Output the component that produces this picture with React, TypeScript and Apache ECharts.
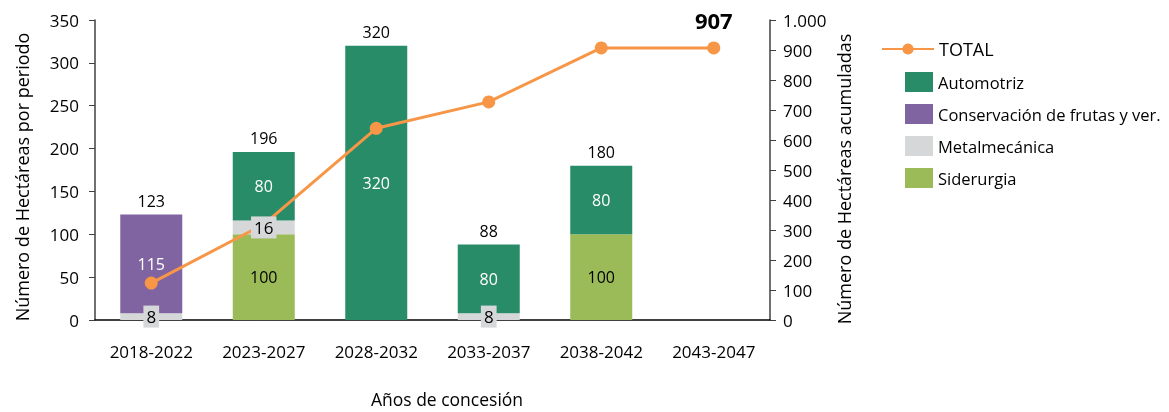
import React, { useEffect, useRef } from "react";
import * as echarts from "echarts";

const categories = ["2018-2022", "2023-2027", "2028-2032", "2033-2037", "2038-2042", "2043-2047"];
const siderurgia = [null, 100, null, null, 100, null];
const metalmecanica = [8, 16, null, 8, null, null];
const conservacion = [115, null, null, null, null, null];
const automotriz = [null, 80, 320, 80, 80, null];
const totals = [123, 196, 320, 88, 180, null];
const acumulado = [123, 319, 639, 727, 907, 907];

const FONT = "Open Sans";
const C_AUTO = "#298C69";
const C_CONS = "#8064A2";
const C_METAL = "#D6D7D8";
const C_SID = "#9BBB59";
const C_LINE = "#F79646";

// centres of the Metalmecánica segments (they sit on top of Siderurgia)
const metalCentres = metalmecanica.map((v, i) =>
  v == null ? null : (siderurgia[i] ?? 0) + v / 2
);

export default function App() {
  const ref = useRef<HTMLDivElement>(null);
  useEffect(() => {
    const chart = echarts.init(ref.current!, null, { renderer: "svg" });
    const segLabel = (color: string) => ({
      show: true,
      position: "inside",
      color,
      fontSize: 16,
      fontFamily: FONT,
      formatter: (p: any) => (p.value ? String(p.value) : ""),
    });
    chart.setOption({
      animation: false,
      textStyle: { fontFamily: FONT },
      grid: { left: 95, right: 399, top: 20, bottom: 92 },
      legend: [
        {
          data: ["TOTAL"],
          left: 881,
          top: 40,
          padding: 0,
          itemWidth: 52,
          itemHeight: 14,
          textStyle: { fontSize: 18, color: "#000", fontFamily: FONT },
        },
        {
          data: ["Automotriz", "Conservación de frutas y ver.", "Metalmecánica", "Siderurgia"],
          orient: "vertical",
          left: 905,
          top: 72,
          padding: 0,
          itemWidth: 28,
          itemHeight: 20,
          itemGap: 12,
          icon: "rect",
          textStyle: { fontSize: 16.5, color: "#000", fontFamily: FONT },
        },
      ],
      xAxis: {
        type: "category",
        data: categories,
        axisLine: { lineStyle: { color: "#000", width: 1.5 } },
        axisTick: { show: false },
        axisLabel: { fontSize: 17, color: "#000", margin: 23, fontFamily: FONT },
      },
      yAxis: [
        {
          type: "value",
          min: 0,
          max: 350,
          interval: 50,
          splitLine: { show: false },
          axisLine: { show: true, lineStyle: { color: "#404040", width: 1.5 } },
          axisTick: { show: true, length: 6, lineStyle: { color: "#404040" } },
          axisLabel: { fontSize: 17, color: "#000", margin: 16, fontFamily: FONT },
        },
        {
          type: "value",
          min: 0,
          max: 1000,
          interval: 100,
          splitLine: { show: false },
          axisLine: { show: true, lineStyle: { color: "#404040", width: 1.5 } },
          axisTick: { show: true, length: 6, lineStyle: { color: "#404040" } },
          axisLabel: {
            fontSize: 17,
            color: "#000",
            margin: 13,
            fontFamily: FONT,
            formatter: (v: number) => String(v).replace(/\B(?=(\d{3})+(?!\d))/g, "."),
          },
        },
      ],
      graphic: [
        {
          type: "text",
          x: 22,
          y: 177,
          rotation: Math.PI / 2,
          style: {
            text: "Número de Hectáreas por periodo",
            align: "center",
            verticalAlign: "middle",
            fontSize: 18,
            fontFamily: FONT,
            fill: "#000",
          },
        },
        {
          type: "text",
          x: 844,
          y: 179,
          rotation: Math.PI / 2,
          style: {
            text: "Número de Hectáreas acumuladas",
            align: "center",
            verticalAlign: "middle",
            fontSize: 18,
            fontFamily: FONT,
            fill: "#000",
          },
        },
        {
          type: "text",
          x: 447,
          y: 399,
          style: {
            text: "Años de concesión",
            align: "center",
            verticalAlign: "middle",
            fontSize: 17.5,
            fontFamily: FONT,
            fill: "#000",
          },
        },
      ],
      series: [
        {
          name: "Siderurgia",
          type: "bar",
          stack: "a",
          barWidth: 62,
          data: siderurgia,
          itemStyle: { color: C_SID },
          label: segLabel("#000"),
        },
        {
          name: "Metalmecánica",
          type: "bar",
          stack: "a",
          barWidth: 62,
          data: metalmecanica,
          itemStyle: { color: C_METAL },
        },
        {
          name: "Conservación de frutas y ver.",
          type: "bar",
          stack: "a",
          barWidth: 62,
          data: conservacion,
          itemStyle: { color: C_CONS },
          label: segLabel("#fff"),
        },
        {
          name: "Automotriz",
          type: "bar",
          stack: "a",
          barWidth: 62,
          data: automotriz,
          itemStyle: { color: C_AUTO },
          label: segLabel("#fff"),
        },
        {
          name: "totales",
          type: "scatter",
          data: totals,
          symbolSize: 0,
          silent: true,
          itemStyle: { opacity: 1 },
          label: {
            show: true,
            position: "top",
            distance: 6,
            color: "#000",
            fontSize: 16,
            fontFamily: FONT,
            formatter: (p: any) => (p.value ? String(p.value) : ""),
          },
        },
        {
          name: "TOTAL",
          type: "line",
          yAxisIndex: 1,
          z: 3,
          data: acumulado,
          symbol: "circle",
          symbolSize: 13,
          lineStyle: { color: C_LINE, width: 3 },
          itemStyle: { color: C_LINE },
          label: {
            show: true,
            position: "top",
            distance: 10,
            color: "#000",
            fontSize: 22,
            fontWeight: "bold",
            fontFamily: FONT,
            formatter: (p: any) => (p.dataIndex === acumulado.length - 1 ? String(p.value) : ""),
          },
        },
        {
          name: "metalLabels",
          type: "scatter",
          z: 10,
          data: metalCentres.map((c, i) => (c == null ? null : { value: c, label: metalmecanica[i] })),
          symbolSize: 0,
          silent: true,
          itemStyle: { opacity: 1 },
          label: {
            show: true,
            position: "inside",
            color: "#000",
            fontSize: 17,
            fontFamily: FONT,
            backgroundColor: C_METAL,
            padding: [3, 3, 2, 3],
            formatter: (p: any) => (p.data && p.data.label != null ? String(p.data.label) : ""),
          },
        },
      ],
    });
    return () => chart.dispose();
  }, []);
  return <div ref={ref} style={{ position: "fixed", left: 0, top: 0, width: 1169, height: 412 }} />;
}
